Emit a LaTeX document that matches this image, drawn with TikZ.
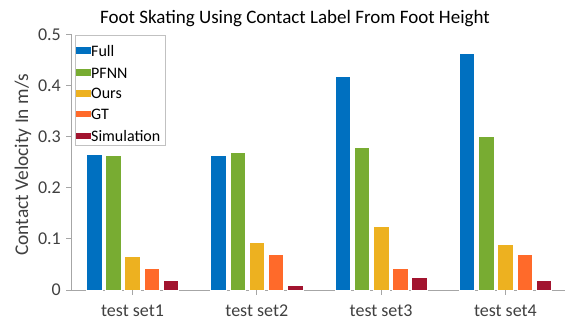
\documentclass[tikz,border=0pt]{standalone}
\usepackage{fontspec}
\setmainfont{Carlito}
\usepackage{tikz}
\usepackage{xcolor}
\definecolor{cfull}{HTML}{0070C0}
\definecolor{cpfnn}{HTML}{78AC32}
\definecolor{cours}{HTML}{EDB120}
\definecolor{cgt}{HTML}{FF6A2A}
\definecolor{csim}{HTML}{A2142F}
\definecolor{axisgray}{HTML}{A6A6A6}
\definecolor{txtgray}{HTML}{404040}

\begin{document}
\begin{tikzpicture}
    [
        x=1pt, y=1pt,
        bar/.style={draw=white, line width=0.6pt},
        axisline/.style={draw=axisgray, line width=0.8pt},
        ticklabel/.style={text=txtgray, font=\fontsize{18}{18}\selectfont},
        legendtext/.style={anchor=base west, inner sep=0pt, text=black, font=\fontsize{16}{16}\selectfont},
    ]
\useasboundingbox (-71,-31) rectangle (494,290);

% title and axis label
\node[anchor=base, font=\fontsize{19}{19}\selectfont] (title) at (224,266) {Foot Skating Using Contact Label From Foot Height};
\node[rotate=90, ticklabel, font=\fontsize{19.4}{19.4}\selectfont] (ylabel) at (-48,125) {Contact Velocity In m/s};

% axes
\draw[axisline] (0,0) -- (0,255.5);
\draw[axisline] (-5,0) -- (494,0);
\foreach \v/\t in {0/0,1/0.1,2/0.2,3/0.3,4/0.4,5/0.5}{
    \draw[axisline] (-5,\v*51.1) -- (0,\v*51.1);
    \node[ticklabel, anchor=east, inner sep=0pt] (yt\v) at (-10,\v*51.1) {\t};
}

% bars
\foreach \g/\a/\b/\c/\d/\e in {1/0.266/0.263/0.066/0.043/0.018,
                               2/0.263/0.269/0.093/0.070/0.010,
                               3/0.419/0.280/0.125/0.043/0.025,
                               4/0.463/0.301/0.089/0.070/0.018}
{
    \pgfmathsetmacro{\cx}{61.5+124.3*(\g-1)}
    \pgfmathsetmacro{\lx}{\cx-46.15}
    \draw[bar, fill=cfull] (\lx,0) rectangle ++(15.5,\a*511);
    \draw[bar, fill=cpfnn] (\lx+19.2,0) rectangle ++(15.5,\b*511);
    \draw[bar, fill=cours] (\lx+38.4,0) rectangle ++(15.5,\c*511);
    \draw[bar, fill=cgt] (\lx+57.6,0) rectangle ++(15.5,\d*511);
    \draw[bar, fill=csim] (\lx+76.8,0) rectangle ++(15.5,\e*511);
    \draw[axisline] (\cx,0) -- (\cx,-5);
    \node[ticklabel, anchor=base] (xt\g) at (\cx,-26.7) {test set\g};
}

% legend
\draw[draw=axisgray!70, line width=0.6pt] (4,145) rectangle (94,255);
\foreach \y/\col/\name in {239.5/cfull/Full, 217.3/cpfnn/PFNN, 196.7/cours/Ours, 176/cgt/GT, 154/csim/Simulation}
{
    \fill[\col] (5,\y-3.3) rectangle (19.5,\y+3.3);
    \node[legendtext] (lg\name) at (20,\y-5.6) {\name};
}
\end{tikzpicture}
\end{document}
